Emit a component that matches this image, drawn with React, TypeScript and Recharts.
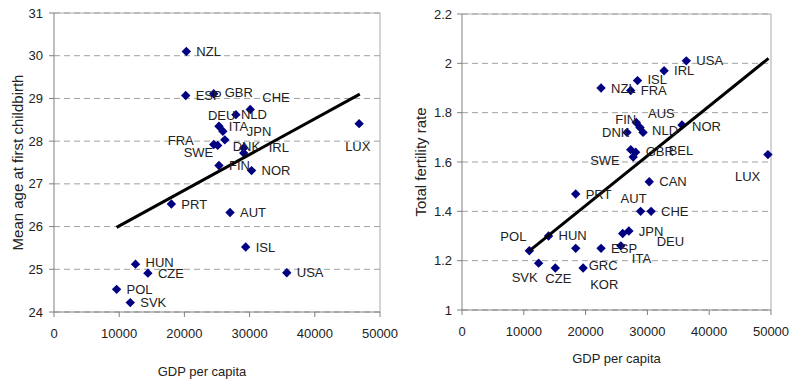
import { CartesianGrid, Label, ReferenceLine, Scatter, ScatterChart, XAxis, YAxis } from "recharts"

// Left panel: mean age at first childbirth vs GDP per capita
const ageCountries = ["NZL", "ESP", "GBR", "CHE", "NLD", "DEU", "ITA", "JPN", "FRA", "SWE", "DNK", "IRL", "FIN", "NOR", "LUX", "PRT", "AUT", "ISL", "USA", "HUN", "CZE", "POL", "SVK"]
const ageGdp = [20300, 20200, 24500, 30100, 27900, 25300, 25900, 26200, 24500, 25100, 29100, 29100, 25300, 30300, 46800, 18000, 27000, 29400, 35700, 12500, 14400, 9600, 11700]
const ageValues = [30.1, 29.07, 29.11, 28.74, 28.62, 28.35, 28.23, 28.03, 27.92, 27.9, 27.84, 27.72, 27.43, 27.31, 28.41, 26.53, 26.33, 25.52, 24.92, 25.12, 24.91, 24.53, 24.22]
const ageTrendGdp = [9600, 46900]
const ageTrendValues = [25.98, 29.1]
const ageTicks = [24, 25, 26, 27, 28, 29, 30, 31]

// Right panel: total fertility rate vs GDP per capita
const fertCountries = ["USA", "IRL", "ISL", "NZL", "FRA", "FIN", "AUS", "NLD", "DNK", "NOR", "GBR", "BEL", "SWE", "LUX", "CAN", "PRT", "AUT", "CHE", "DEU", "JPN", "ITA", "ESP", "GRC", "KOR", "HUN", "POL", "SVK", "CZE"]
const fertGdp = [36300, 32700, 28400, 22500, 27300, 28200, 28800, 29300, 26700, 35600, 27300, 28100, 27700, 49500, 30300, 18400, 28900, 30600, 26000, 27000, 25700, 22500, 18400, 19600, 14000, 10900, 12400, 15100]
const fertValues = [2.01, 1.97, 1.93, 1.9, 1.89, 1.76, 1.74, 1.72, 1.72, 1.75, 1.65, 1.64, 1.62, 1.63, 1.52, 1.47, 1.4, 1.4, 1.31, 1.32, 1.26, 1.25, 1.25, 1.17, 1.3, 1.24, 1.19, 1.17]
const fertTrendGdp = [10900, 49600]
const fertTrendValues = [1.24, 2.02]
const fertTicks = [1, 1.2, 1.4, 1.6, 1.8, 2, 2.2]

const gdpTicks = [0, 10000, 20000, 30000, 40000, 50000]

// label placement (left edge / vertical centre relative to the marker)
const ageLabelShift: Record<string, [number, number]> = {
  GBR: [11, -1], CHE: [12, -12], NLD: [5, 0], DEU: [-11, -11], ITA: [6, -5], JPN: [22, -8],
  FRA: [-46, -4], SWE: [-34, 7], DNK: [-11, -2], IRL: [25, -6], LUX: [-14, 23], HUN: [10, -2],
}
const fertLabelShift: Record<string, [number, number]> = {
  ISL: [10, -1], AUS: [8, -14], FIN: [-21, -3], NLD: [9, -2], DNK: [-25, 0], NOR: [10, 1],
  GBR: [15, 2], BEL: [33, -2], SWE: [-43, 3], LUX: [-33, 22], AUT: [-20, -13], DEU: [34, 8],
  ITA: [11, 13], GRC: [13, 17], KOR: [7, 16], CZE: [-10, 10], SVK: [-27, 14], POL: [-29, -14], HUN: [10, -1],
}

const font = "'Liberation Sans', Arial, sans-serif"
const navy = "#000080"

const toPoints = (names: string[], xs: number[], ys: number[]) =>
  xs.map((x, i) => ({ name: names[i], x, y: ys[i] }))

const ageData = toPoints(ageCountries, ageGdp, ageValues)
const ageTrend = toPoints([], ageTrendGdp, ageTrendValues)
const fertData = toPoints(fertCountries, fertGdp, fertValues)
const fertTrend = toPoints([], fertTrendGdp, fertTrendValues)

const Diamond = (props: any) => {
  const { cx, cy } = props
  const r = 4.7
  return <path d={`M${cx},${cy - r}L${cx + r},${cy}L${cx},${cy + r}L${cx - r},${cy}Z`} fill={navy} />
}

const makeLabel = (shift: Record<string, [number, number]>) => (props: any) => {
  const { cx, cy, payload } = props
  const [dx, dy] = shift[payload.name] ?? [10, 0]
  return (
    <text x={cx + dx} y={cy + dy + 4.6} fontSize={13} fontFamily={font} fill="#222">
      {payload.name}
    </text>
  )
}

const Nothing = () => <g />

const yTitle = (text: string, offset: number) => (props: any) => {
  const { viewBox } = props
  const x = viewBox.x + offset
  const y = viewBox.y + viewBox.height / 2
  return (
    <text x={x} y={y} transform={`rotate(-90 ${x} ${y})`} textAnchor="middle" dominantBaseline="central"
      fontSize={15} fontFamily={font} fill="#222">
      {text}
    </text>
  )
}

const xTitle = (text: string, dx: number, dy: number) => (props: any) => {
  const { viewBox } = props
  return (
    <text x={viewBox.x + viewBox.width / 2 + dx} y={viewBox.y + dy} textAnchor="middle"
      fontSize={13} fontFamily={font} fill="#222">
      {text}
    </text>
  )
}

const tickStyle = { fill: "#222", fontSize: 13, fontFamily: font }
const fmt = (v: number) => String(Math.round(v * 10) / 10)

export default function App() {
  return (
    <div style={{ position: "absolute", left: 0, top: 0, width: 790, height: 380, background: "#fff" }}>
      <div style={{ position: "absolute", left: 0, top: 0 }}>
        <ScatterChart width={400} height={380} margin={{ top: 13, right: 20, bottom: 0, left: 0 }}>
          <CartesianGrid horizontal vertical={false} stroke="#a0a0a0" strokeDasharray="6 4" />
          <XAxis type="number" dataKey="x" domain={[0, 50000]} ticks={gdpTicks} stroke="#808080"
            tick={tickStyle} tickSize={5} tickMargin={12} height={68}>
            <Label content={xTitle("GDP per capita", -15, 64)} />
          </XAxis>
          <YAxis type="number" dataKey="y" domain={[24, 31]} ticks={ageTicks} stroke="#808080"
            tick={tickStyle} tickSize={5} tickMargin={6} width={54}>
            <Label content={yTitle("Mean age at first childbirth", 17.5)} />
          </YAxis>
          <ReferenceLine y={31} stroke="#a8a8a8" />
          <ReferenceLine x={50000} stroke="#a8a8a8" />
          <Scatter data={ageData} shape={Diamond} isAnimationActive={false} />
          <Scatter data={ageTrend} shape={Nothing} line={{ stroke: "#000", strokeWidth: 3 }} isAnimationActive={false} />
          <Scatter data={ageData} shape={makeLabel(ageLabelShift)} isAnimationActive={false} />
        </ScatterChart>
      </div>
      <div style={{ position: "absolute", left: 400, top: 0 }}>
        <ScatterChart width={390} height={380} margin={{ top: 14, right: 19, bottom: 0, left: 0 }}>
          <CartesianGrid horizontal vertical={false} stroke="#a0a0a0" strokeDasharray="6 4" />
          <XAxis type="number" dataKey="x" domain={[0, 50000]} ticks={gdpTicks} stroke="#808080"
            tick={tickStyle} tickSize={5} tickMargin={12} height={70}>
            <Label content={xTitle("GDP per capita", 0, 53)} />
          </XAxis>
          <YAxis type="number" dataKey="y" domain={[1, 2.2]} ticks={fertTicks} tickFormatter={fmt}
            stroke="#808080" tick={tickStyle} tickSize={5} tickMargin={5} width={62}>
            <Label content={yTitle("Total fertility rate", 20)} />
          </YAxis>
          <ReferenceLine y={2.2} stroke="#a8a8a8" />
          <ReferenceLine x={50000} stroke="#a8a8a8" />
          <Scatter data={fertData} shape={Diamond} isAnimationActive={false} />
          <Scatter data={fertTrend} shape={Nothing} line={{ stroke: "#000", strokeWidth: 3 }} isAnimationActive={false} />
          <Scatter data={fertData} shape={makeLabel(fertLabelShift)} isAnimationActive={false} />
        </ScatterChart>
      </div>
    </div>
  )
}
